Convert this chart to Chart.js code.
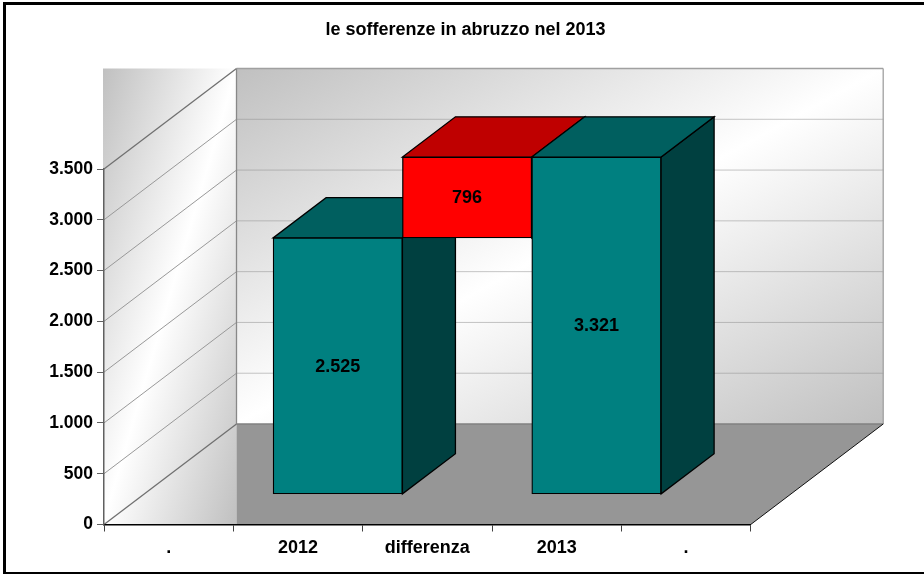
<!DOCTYPE html>
<html><head><meta charset="utf-8">
<style>html,body{margin:0;padding:0;background:#fff}canvas{display:block}</style>
<script src="https://cdn.jsdelivr.net/npm/chart.js@4"></script>
</head><body><canvas id="c" width="924" height="574"></canvas>
<script>
const categories = ['.', '2012', 'differenza', '2013', '.'];
const totals = [null, 2525, null, 3321, null];
const spacer = [null, null, 2525, null, null];
const difference = [null, null, 796, null, null];
const tickLabels = ['0', '500', '1.000', '1.500', '2.000', '2.500', '3.000', '3.500'];
const titleText = 'le sofferenze in abruzzo nel 2013';

const FONT = '"Liberation Sans", Arial, sans-serif';
const DX = 132.5, DY = 100.5;
const FRONT = 0.3, DEPTH = 0.4;
const fmt = v => String(v).replace(/\B(?=(\d{3})+$)/g, '.');

function cornerGradient(ctx, x0, y0, x1, y1) {
  const w = x1 - x0, h = y1 - y0, len = Math.hypot(w, h);
  const nx = h / len, ny = w / len, half = (w * nx + h * ny) / 2;
  const cx = (x0 + x1) / 2, cy = (y0 + y1) / 2;
  const g = ctx.createLinearGradient(cx - nx * half, cy - ny * half, cx + nx * half, cy + ny * half);
  g.addColorStop(0, '#c0c0c0'); g.addColorStop(0.5, '#ffffff'); g.addColorStop(1, '#c0c0c0');
  return g;
}
function poly(ctx, pts, fill, stroke, lw) {
  ctx.beginPath();
  pts.forEach((p, i) => i ? ctx.lineTo(p[0], p[1]) : ctx.moveTo(p[0], p[1]));
  ctx.closePath();
  if (fill) { ctx.fillStyle = fill; ctx.fill(); }
  if (stroke) { ctx.strokeStyle = stroke; ctx.lineWidth = lw || 1; ctx.stroke(); }
}
function line(ctx, a, b, color, lw, dash) {
  ctx.beginPath(); ctx.setLineDash(dash || []);
  ctx.moveTo(a[0], a[1]); ctx.lineTo(b[0], b[1]);
  ctx.strokeStyle = color; ctx.lineWidth = lw || 1; ctx.stroke(); ctx.setLineDash([]);
}

const scene3d = {
  id: 'scene3d',
  beforeDraw(chart) {
    const { ctx, chartArea: a, scales: { y } } = chart;
    const L = a.left, R = a.right, B = a.bottom, T = y.getPixelForValue(3500);
    const bx = L + DX, fy = B - DY, ty = T - DY, rx = R + DX;
    ctx.save();
    ctx.fillStyle = '#fff'; ctx.fillRect(0, 0, chart.width, chart.height);
    ctx.strokeStyle = '#000'; ctx.lineWidth = 3; ctx.strokeRect(4.5, 3.5, 1000, 570);
    ctx.fillStyle = cornerGradient(ctx, L - 1, ty, bx, B); ctx.fillRect(L - 1, ty, bx - L + 1, B - ty);
    ctx.fillStyle = cornerGradient(ctx, bx, ty, rx, fy); ctx.fillRect(bx, ty, rx - bx, fy - ty);
    poly(ctx, [[bx, B], [R, B], [rx, fy], [bx, fy]], '#969696');
    y.ticks.forEach(t => {
      const py = y.getPixelForValue(t.value);
      if (t.value > 0 && t.value < 3500) line(ctx, [bx, py - DY], [rx, py - DY], '#8c8c8c', 1, [1, 1]);
      line(ctx, [L, py], [bx, py - DY], t.value === 0 || t.value === 3500 ? '#707070' : '#999999', t.value === 0 || t.value === 3500 ? 1.3 : 1);
    });
    line(ctx, [bx, ty], [rx, ty], '#a0a0a0', 1.3);
    line(ctx, [rx, ty], [rx, fy], '#a0a0a0', 1.3);
    line(ctx, [bx, ty], [bx, fy], '#888888', 1.3);
    line(ctx, [bx, fy], [rx, fy], '#808080', 1.3);
    line(ctx, [R, B], [rx, fy], '#111111', 1);
    ctx.restore();
  },
  beforeDatasetsDraw(chart) {
    const { ctx } = chart;
    const fx = DX * FRONT, fy = DY * FRONT, sx = DX * DEPTH, sy = DY * DEPTH;
    ctx.save();
    ctx.lineJoin = 'miter';
    categories.forEach((_, i) => {
      chart.data.datasets.forEach((ds, d) => {
        if (ds.data[i] == null || ds.spacer) return;
        const el = chart.getDatasetMeta(d).data[i];
        const l = el.x - el.width / 2 + fx, r = el.x + el.width / 2 + fx, t = el.y - fy, b = el.base - fy;
        poly(ctx, [[r, t], [r + sx, t - sy], [r + sx, b - sy], [r, b]], ds.sideColor, '#000', 1.3);
        poly(ctx, [[l, t], [r, t], [r + sx, t - sy], [l + sx, t - sy]], ds.topColor, '#000', 1.3);
      });
    });
    ctx.restore();
    ctx.save();
    ctx.translate(fx, -fy);
  },
  afterDatasetsDraw(chart) {
    const { ctx } = chart;
    ctx.restore();
    const fx = DX * FRONT, fy = DY * FRONT;
    ctx.save();
    ctx.font = 'bold 18px ' + FONT;
    ctx.fillStyle = '#000'; ctx.textAlign = 'center'; ctx.textBaseline = 'middle';
    chart.data.datasets.forEach((ds, d) => {
      if (ds.spacer) return;
      ds.data.forEach((v, i) => {
        if (v == null) return;
        const el = chart.getDatasetMeta(d).data[i];
        ctx.fillText(fmt(v), el.x + fx, (el.y + el.base) / 2 - fy + 1);
      });
    });
    ctx.restore();
  }
};

const teal = { backgroundColor: '#008080', topColor: '#005f5f', sideColor: '#004040', borderColor: '#000', borderWidth: 1.3, borderSkipped: false };
new Chart(document.getElementById('c'), {
  type: 'bar',
  data: {
    labels: categories,
    datasets: [
      { label: 'totale', data: totals, ...teal },
      { label: 'base', data: spacer, spacer: true, backgroundColor: 'transparent', borderWidth: 0 },
      { label: 'differenza', data: difference, backgroundColor: '#ff0000', topColor: '#bf0000', sideColor: '#800000', borderColor: '#000', borderWidth: 1.3, borderSkipped: false }
    ]
  },
  options: {
    responsive: false, animation: false, devicePixelRatio: 1,
    layout: { padding: { left: 7, top: 0, right: 0, bottom: 0 } },
    categoryPercentage: 1, barPercentage: 1,
    plugins: {
      legend: { display: false }, tooltip: { enabled: false },
      title: { display: true, text: titleText, color: '#000',
        font: { family: FONT, size: 18, weight: 'bold', lineHeight: 1.2 },
        padding: { top: 19.5, bottom: 127.9 } }
    },
    scales: {
      x: { stacked: true, offset: true,
        afterFit(s) { s.height = 49.5; },
        grid: { drawOnChartArea: false, drawTicks: true, tickLength: 7, color: '#404040', offset: true },
        border: { color: '#000', width: 1.5 },
        ticks: { color: '#000', padding: 6, autoSkip: false, maxRotation: 0, font: { family: FONT, size: 18, weight: 'bold' } } },
      y: { stacked: true, min: 0, max: 3500,
        afterFit(s) { s.width = 97; },
        grid: { drawOnChartArea: false, drawTicks: true, tickLength: 7, color: '#606060' },
        border: { color: '#606060', width: 1.5 },
        ticks: { stepSize: 500, color: '#000', padding: 4, font: { family: FONT, size: 17.5, weight: 'bold' },
          callback: (v, i) => tickLabels[i] } },
      rightGap: { position: 'right', display: true, min: 0, max: 1,
        afterFit(s) { s.width = 173.3; },
        grid: { display: false, drawTicks: false }, border: { display: false }, ticks: { display: false } }
    }
  },
  plugins: [scene3d]
});
</script></body></html>
